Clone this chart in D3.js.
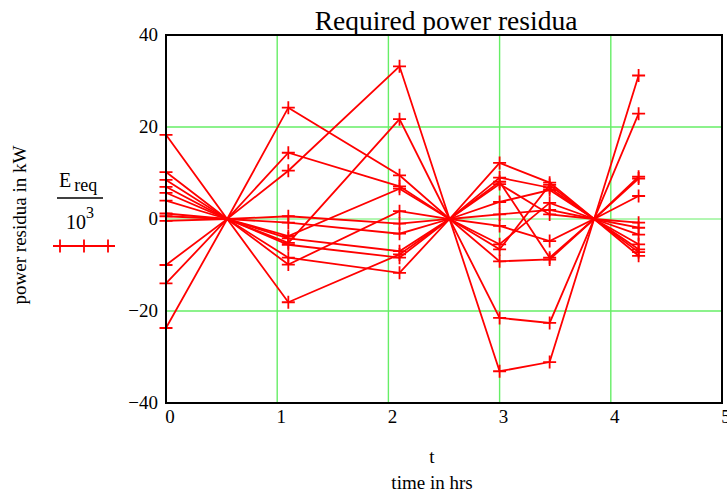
<!DOCTYPE html>
<html>
<head>
<meta charset="utf-8">
<script src="https://cdn.jsdelivr.net/npm/d3@7"></script>
<style>
  body { margin: 0; background: #fff; }
</style>
</head>
<body>
<div id="chart"></div>
<script>
// sample times (hrs), all series pass through 0 at 0.55, 2.55, 3.85
const times = [0, 0.55, 1.1, 2.1, 2.55, 3.0, 3.45, 3.85, 4.25];

// power residua in kW, one array per trace
const r1  = [18.3, 0, 24.2, 9.5, 0, 12.2, 7.9, 0, 31.2];
const r2  = [10.2, 0, 14.4, 7.1, 0, 9.0, 6.8, 0, 22.9];
const r3  = [8.5, 0, 10.5, 33.2, 0, 8.1, -8.4, 0, 9.2];
const r4  = [7.0, 0, 0.6, -1.0, 0, 7.6, 1.0, 0, 8.8];
const r5  = [5.7, 0, -0.8, -3.2, 0, 3.7, 6.3, 0, 5.0];
const r6  = [4.0, 0, -3.7, 6.6, 0, 1.0, 2.0, 0, -0.8];
const r7  = [1.2, 0, -4.2, -7.0, 0, -1.5, -4.8, 0, -1.9];
const r8  = [0.6, 0, -5.2, 21.7, 0, -5.5, 3.5, 0, -3.4];
const r9  = [-0.4, 0, -5.6, -8.4, 0, -6.6, 7.4, 0, -5.5];
const r10 = [-10.0, 0, -8.4, -11.7, 0, -9.2, -8.8, 0, -6.6];
const r11 = [-14.0, 0, -9.9, 1.7, 0, -21.5, -22.6, 0, -7.2];
const r12 = [-23.7, 0, -18.1, -7.7, 0, -33.1, -31.1, 0, -8.0];
const traces = [r1, r2, r3, r4, r5, r6, r7, r8, r9, r10, r11, r12];

const xTicks = [0, 1, 2, 3, 4, 5];
const yTicks = [40, 20, 0, -20, -40];

const W = 727, H = 495;
const serif = "'Liberation Serif', 'Times New Roman', Times, serif";
const svg = d3.select("#chart").append("svg")
  .attr("width", W).attr("height", H)
  .attr("font-family", serif);

const x = d3.scaleLinear().domain([0, 5]).range([166, 722]);
const y = d3.scaleLinear().domain([-40, 40]).range([403, 35]);

// grid
const grid = svg.append("g");
grid.selectAll("line.vx")
  .data(xTicks.slice(1, -1))
  .join("line")
    .attr("x1", d => x(d)).attr("x2", d => x(d))
    .attr("y1", y(40)).attr("y2", y(-40))
    .attr("stroke", "#66ee66").attr("stroke-width", 1.4);
grid.selectAll("line.hy")
  .data(yTicks.slice(1, -1))
  .join("line")
    .attr("x1", x(0)).attr("x2", x(5))
    .attr("y1", d => y(d)).attr("y2", d => y(d))
    .attr("stroke", "#66ee66").attr("stroke-width", d => d === 0 ? 1 : 1.4);

// traces
const line = d3.line()
  .x((d, i) => x(times[i]))
  .y(d => y(d));

svg.append("g")
  .selectAll("path")
  .data(traces)
  .join("path")
    .attr("d", line)
    .attr("fill", "none")
    .attr("stroke", "#ff0000")
    .attr("stroke-width", 1.8);

// plus markers (skip the shared zero crossings)
const pts = [];
traces.forEach(tr => tr.forEach((v, i) => {
  if (!(v === 0 && (i === 1 || i === 4 || i === 7))) pts.push([times[i], v]);
}));
const plus = svg.append("g").attr("stroke", "#ff0000").attr("stroke-width", 1.8);
plus.selectAll("path")
  .data(pts)
  .join("path")
    .attr("d", d => {
      const cx = x(d[0]), cy = y(d[1]), s = 6.5;
      return `M${cx - s},${cy}H${cx + s}M${cx},${cy - s}V${cy + s}`;
    });

// frame
svg.append("rect")
  .attr("x", x(0)).attr("y", y(40))
  .attr("width", x(5) - x(0)).attr("height", y(-40) - y(40))
  .attr("fill", "none").attr("stroke", "#000").attr("stroke-width", 2);

// tick labels
svg.append("g")
  .selectAll("text")
  .data(yTicks)
  .join("text")
    .attr("x", 158).attr("y", d => y(d) + 6)
    .attr("text-anchor", "end")
    .attr("font-size", 19)
    .text(d => d < 0 ? "\u2212" + Math.abs(d) : d);

svg.append("g")
  .selectAll("text")
  .data(xTicks)
  .join("text")
    .attr("x", d => x(d) + 4).attr("y", 423)
    .attr("text-anchor", "middle")
    .attr("font-size", 19)
    .text(d => d);

// title and axis labels
svg.append("text")
  .attr("x", 446).attr("y", 30)
  .attr("text-anchor", "middle")
  .attr("font-size", 27.5)
  .text("Required power residua");

svg.append("text")
  .attr("x", 432).attr("y", 463)
  .attr("text-anchor", "middle")
  .attr("font-size", 19)
  .text("t");

svg.append("text")
  .attr("x", 432).attr("y", 489)
  .attr("text-anchor", "middle")
  .attr("font-size", 19)
  .text("time in hrs");

svg.append("text")
  .attr("transform", "translate(26,225) rotate(-90)")
  .attr("text-anchor", "middle")
  .attr("font-size", 19)
  .text("power residua in kW");

// legend: E_req / 10^3 with red trace sample
const leg = svg.append("g");
const num = leg.append("text").attr("x", 59).attr("y", 187).attr("font-size", 20);
num.append("tspan").text("E");
num.append("tspan").attr("dx", 3).attr("dy", 4).attr("font-size", 18).text("req");
leg.append("line")
  .attr("x1", 57).attr("x2", 103).attr("y1", 198).attr("y2", 198)
  .attr("stroke", "#000").attr("stroke-width", 1.5);
const den = leg.append("text").attr("x", 66).attr("y", 229).attr("font-size", 20);
den.append("tspan").text("10");
den.append("tspan").attr("dy", -11).attr("font-size", 16).text("3");

const legY = 246;
leg.append("line")
  .attr("x1", 53).attr("x2", 115).attr("y1", legY).attr("y2", legY)
  .attr("stroke", "#ff0000").attr("stroke-width", 1.8);
leg.selectAll("path")
  .data([60, 84, 108])
  .join("path")
    .attr("d", cx => `M${cx - 6.5},${legY}H${cx + 6.5}M${cx},${legY - 6.5}V${legY + 6.5}`)
    .attr("stroke", "#ff0000").attr("stroke-width", 1.8);
</script>
</body>
</html>
